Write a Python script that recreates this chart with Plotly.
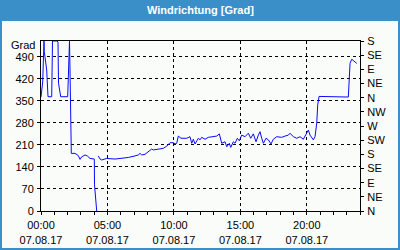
import pandas as pd
import plotly.graph_objects as go

# time of day in hours (07.08.2017), None marks a gap
hours = [0.000, 0.128, 0.226, 0.248, 0.429, 0.504, 0.527, 0.805, 0.865, 1.226, 1.279, 1.317,
         1.482, 2.009, 2.054, 2.107, 2.144, 2.182, 2.257, 2.280, 2.558, 2.807, 2.935, 3.062,
         3.311, 3.484, 3.687, 3.935, 4.011, 4.026, 4.191, 4.250,
         4.312, 4.439, 4.567, 4.944, 5.568, 6.072, 6.569, 7.073, 7.321, 7.449, 7.577, 7.825,
         8.074, 8.330, 8.450, 8.826, 9.202, 9.458, 9.707, 9.955, 10.083, 10.211, 10.331, 10.534,
         10.707, 10.963, 11.211, 11.339, 11.460, 11.588, 11.836, 11.964, 12.092, 12.340, 12.588,
         12.965, 13.221, 13.416, 13.597, 13.845, 13.973, 14.168, 14.274, 14.470, 14.597, 14.770,
         14.921, 15.102, 15.350, 15.598, 15.779, 15.974, 16.178, 16.351, 16.479, 16.607, 16.727,
         16.930, 17.103, 17.306, 17.479, 17.735, 18.111, 18.360, 18.608, 18.736, 18.984, 19.240,
         19.488, 19.737, 19.992, 20.113, 20.241, 20.369, 20.489, 20.617, 20.745, 20.820, 20.918,
         23.123, 23.200, 23.251, 23.379, 23.499, 23.627, 23.755]
grad = [362, 410, 540, 506, 448, 395, 363, 363, 540, 540, 536, 406,
        363, 363, 410, 490, 540, 448, 268, 183, 183, 176, 164, 172,
        178, 175, 167, 165, 165, 83, 0, None,
        175, 165, 162, 167, 165, 167, 170, 175, 178, 183, 178, 180,
        188, 197, 194, 196, 199, 206, 217, 217, 213, 215, 238, 231,
        231, 231, 236, 215, 228, 213, 231, 226, 234, 228, 234,
        236, 238, 245, 215, 220, 204, 215, 202, 220, 215, 231,
        223, 241, 236, 247, 231, 245, 220, 241, 252, 231, 215,
        231, 226, 213, 228, 236, 234, 238, 241, 247, 236, 231,
        236, 228, 247, 257, 241, 231, 226, 236, 279, 337, 364,
        362, 440, 469, 482, 478, 474, 469]

y_ticks = [0, 70, 140, 210, 280, 350, 420, 490]
dir_values = [0, 45, 90, 135, 180, 225, 270, 315, 360, 405, 450, 495, 540]
dir_labels = ["N", "NE", "E", "SE", "S", "SW", "W", "NW", "N", "NE", "E", "SE", "S"]
title_text = "Windrichtung [Grad]"
unit_text = "Grad"

base = pd.Timestamp("2017-08-07 00:00")
times = [base + pd.Timedelta(hours=h) for h in hours]

BLUE = "#3b8fc8"
PANEL = "#fafcfa"
FONT = "Liberation Sans"

fig = go.Figure()
fig.add_trace(go.Scatter(x=times, y=grad, mode="lines", connectgaps=False,
                         line=dict(color="#0a0aff", width=1), hoverinfo="skip",
                         showlegend=False))
fig.add_trace(go.Scatter(x=[base], y=[0], yaxis="y2", mode="markers",
                         marker=dict(opacity=0), showlegend=False, hoverinfo="skip"))

W, H = 400, 250
L, R, T, B = 41, 40, 41, 39
pw, ph = W - L - R, H - T - B

def px(xp):
    return (xp - L) / pw

def py(yp):
    return (H - B - yp) / ph

fig.update_layout(
    width=W, height=H,
    margin=dict(l=L, r=R, t=T, b=B, pad=0, autoexpand=False),
    paper_bgcolor=BLUE, plot_bgcolor=PANEL,
    font=dict(family=FONT, size=11, color="black"),
    showlegend=False,
    xaxis=dict(
        type="date", automargin=False,
        range=[base, base + pd.Timedelta(hours=24)],
        tick0=base, dtick=5 * 3600000,
        tickformat="%H:%M<br>%d.%m.%y",
        ticks="outside", ticklen=3, tickcolor="black",
        showline=True, linecolor="black", linewidth=1, mirror=True,
        showgrid=True, gridcolor="black", gridwidth=1, griddash="3px,3px",
        minor=dict(dtick=3600000, ticks="outside", ticklen=3, tickcolor="black", showgrid=False),
        zeroline=False, fixedrange=True,
        ticklabelstandoff=1,
    ),
    yaxis=dict(
        range=[0, 540], tickvals=y_ticks, automargin=False,
        ticks="outside", ticklen=3, tickcolor="black",
        showline=True, linecolor="black", linewidth=1,
        showgrid=True, gridcolor="black", gridwidth=1, griddash="3px,3px",
        zeroline=False, fixedrange=True, ticklabelstandoff=1,
    ),
    yaxis2=dict(
        range=[0, 540], overlaying="y", side="right", automargin=False,
        tickvals=dir_values, ticktext=dir_labels,
        ticks="outside", ticklen=3, tickcolor="black",
        showline=True, linecolor="black", linewidth=1,
        showgrid=False, zeroline=False, fixedrange=True, ticklabelstandoff=1,
    ),
    shapes=[
        dict(type="rect", xref="paper", yref="paper", layer="below",
             x0=px(2), x1=px(398), y0=py(248), y1=py(21),
             fillcolor=PANEL, line=dict(width=0)),
    ],
    annotations=[
        dict(text=f"<b>{title_text}</b>", xref="paper", yref="paper",
             x=px(200), y=py(10.5), xanchor="center", yanchor="middle",
             showarrow=False, font=dict(color="white", size=11, family=FONT)),
        dict(text=unit_text, xref="paper", yref="paper",
             x=px(37), y=py(45), xanchor="right", yanchor="middle",
             showarrow=False, xshift=0, font=dict(size=11, family=FONT)),
    ],
)

fig.write_html("out.html")
